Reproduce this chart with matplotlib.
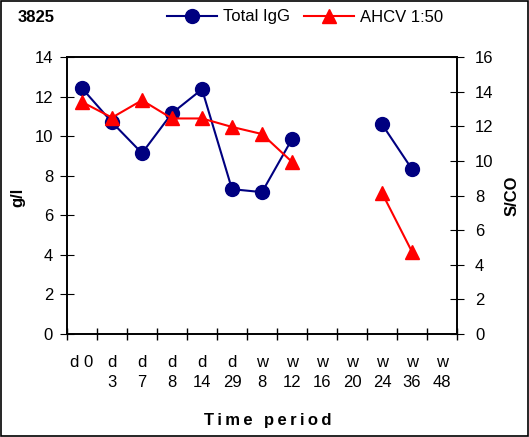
import matplotlib.pyplot as plt
import numpy as np

plt.rcParams['font.family'] = ['Liberation Sans', 'DejaVu Sans']

labels = ['d 0', 'd\n3', 'd\n7', 'd\n8', 'd\n14', 'd\n29', 'w\n8', 'w\n12',
          'w\n16', 'w\n20', 'w\n24', 'w\n36', 'w\n48']
igg = [12.42, 10.7, 9.14, 11.16, 12.37, 7.32, 7.17, 9.85,
       np.nan, np.nan, 10.6, 8.33, np.nan]
ahcv = [13.4, 12.5, 13.5, 12.45, 12.45, 11.96, 11.55, 9.94,
        np.nan, np.nan, 8.15, 4.75, np.nan]

x = np.arange(len(labels))

fig = plt.figure(figsize=(5.29, 4.37), dpi=100)
ax = fig.add_axes([67 / 529, 1 - 334 / 437, 390 / 529, 277 / 437])
ax2 = ax.twinx()

l1, = ax.plot(x, igg, color='#000080', marker='o', markersize=10, lw=1.5, label='Total IgG')
l2, = ax2.plot(x, ahcv, color='#ff0000', marker='^', markersize=10, lw=1.5, label='AHCV 1:50')

ax.set_xlim(-0.5, len(labels) - 0.5)
ax.set_ylim(0, 14)
ax.set_yticks(range(0, 15, 2))
ax2.set_ylim(0, 16)
ax2.set_yticks(range(0, 17, 2))

ax.set_xticks(x)
ax.set_xticklabels(labels, fontsize=12, linespacing=1.45, va='top')
ax.set_xticks(np.arange(-0.5, len(labels)), minor=True)
ax.tick_params(axis='x', which='major', length=0, pad=15)
ax.tick_params(axis='x', which='minor', direction='inout', length=8, width=1)
ax.tick_params(axis='y', direction='inout', length=10, labelsize=12, pad=5)
ax2.tick_params(axis='y', direction='inout', length=10, labelsize=12, pad=8)

for a in (ax, ax2):
    for s in a.spines.values():
        s.set_linewidth(1.2)

fig.text(18 / 529, 1 - 197 / 437, 'g/l', fontsize=12, fontweight='bold',
         rotation=90, ha='center', va='center')
ax2.set_ylabel('S/CO', fontsize=12, fontweight='bold', labelpad=8)
fig.text(268 / 529, 1 - 420 / 437, 'T\u2009i\u2009m\u2009e\u2009 \u2009p\u2009e\u2009r\u2009i\u2009o\u2009d',
         fontsize=12, fontweight='bold', ha='center', va='center')

fig.text(18 / 529, 1 - 18 / 437, '3825', fontsize=12, fontweight='bold', va='center')
fig.legend([l1, l2], ['Total IgG', 'AHCV 1:50'], loc='center', ncol=2,
           bbox_to_anchor=(305 / 529, 1 - 17 / 437), frameon=False, fontsize=12,
           handlelength=3, columnspacing=0.8, handletextpad=0.4)

fig.patches.append(plt.Rectangle((0.002, 0.002), 0.996, 0.996, transform=fig.transFigure,
                                 fill=False, edgecolor='black', lw=1.2))

fig.savefig('out.png', dpi=100)
